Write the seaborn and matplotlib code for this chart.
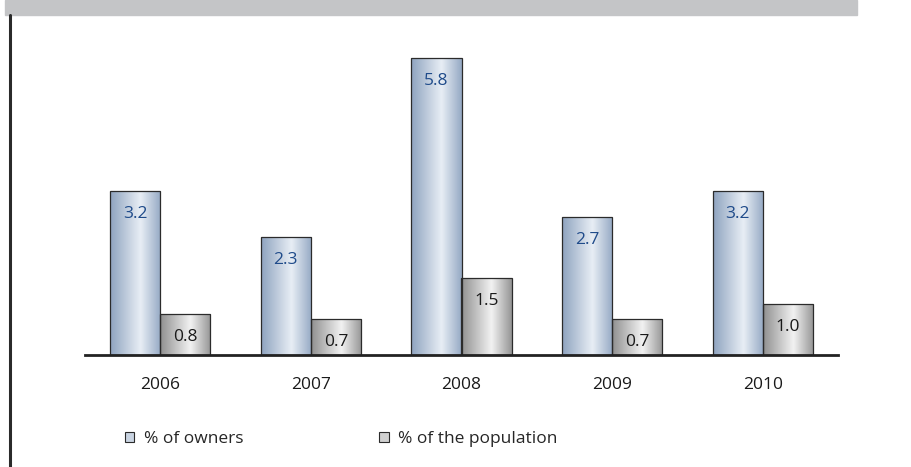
import numpy as np
import pandas as pd
import seaborn as sns
import matplotlib.pyplot as plt
from matplotlib.colors import LinearSegmentedColormap
from matplotlib.patches import Rectangle, Patch
from matplotlib.lines import Line2D

years = ['2006', '2007', '2008', '2009', '2010']
owners = [3.2, 2.3, 5.8, 2.7, 3.2]
population = [0.8, 0.7, 1.5, 0.7, 1.0]
series_names = ['% of owners', '% of the population']

df = pd.DataFrame({
    'year': years * 2,
    'value': owners + population,
    'series': [series_names[0]] * len(years) + [series_names[1]] * len(years),
})

sns.set_theme(style='white')
plt.rcParams['font.family'] = ['Open Sans', 'DejaVu Sans']

W, H = 911, 467
fig = plt.figure(figsize=(W / 100, H / 100), dpi=100)
ax = fig.add_axes([85 / W, 1 - 355 / H, (838 - 85) / W, (355 - 15) / H])

blue_mid = '#b4c3d6'
gray_mid = '#c4c4c4'
sns.barplot(data=df, x='year', y='value', hue='series', ax=ax,
            palette=[blue_mid, gray_mid], width=0.665, gap=0,
            edgecolor='#2b2b2b', linewidth=0.9, legend=False)

# horizontal gradients clipped to each bar
blue_cmap = LinearSegmentedColormap.from_list(
    'b', [(0, '#8ea3bf'), (0.6, '#e8eef5'), (1, '#95a9c4')])
gray_cmap = LinearSegmentedColormap.from_list(
    'g', [(0, '#8f8f8f'), (0.6, '#f2f2f2'), (1, '#959595')])
grad = np.linspace(0, 1, 256).reshape(1, -1)
n = len(years)
for i, p in enumerate(ax.patches[:2 * n]):
    cmap = blue_cmap if i < n else gray_cmap
    x0, w, h = p.get_x(), p.get_width(), p.get_height()
    im = ax.imshow(grad, cmap=cmap, aspect='auto', extent=(x0, x0 + w, 0, h),
                   zorder=1.5, interpolation='bicubic')
    im.set_clip_path(p)
    p.set_facecolor('none')
    p.set_zorder(2)
    val = owners[i] if i < n else population[i - n]
    ax.annotate(f'{val:.1f}', (x0 + w / 2, h), xytext=(0, -23),
                textcoords='offset pixels', ha='center', va='center',
                fontsize=12.5, color='#1f4b8a' if i < n else '#1a1a1a', zorder=3)

ax.set_xlim(-0.5, 4.5)
ax.set_ylim(0, 340 / 51.25)
ax.set_xlabel('')
ax.set_ylabel('')
ax.set_yticks([])
ax.tick_params(axis='x', length=0, labelsize=12.5, pad=16, colors='#1a1a1a')
for s in ['top', 'right', 'left']:
    ax.spines[s].set_visible(False)
ax.spines['bottom'].set_color('#222222')
ax.spines['bottom'].set_linewidth(2)

# header band and left rule
fig.patches.append(Rectangle((5 / W, 1 - 15 / H), (857 - 5) / W, 15 / H,
                             transform=fig.transFigure, color='#c4c5c7', zorder=0))
fig.lines.append(Line2D([10 / W, 10 / W], [0, 1 - 15 / H], transform=fig.transFigure,
                        color='#2a2a2a', linewidth=2.2))

handles = [Patch(facecolor='#c9d4e2', edgecolor='#2b2b2b', linewidth=0.8),
           Patch(facecolor='#d0d0d0', edgecolor='#2b2b2b', linewidth=0.8)]
fig.legend(handles, series_names, loc='center left', ncol=2, frameon=False,
           bbox_to_anchor=(118 / W, 1 - 439 / H), fontsize=12.5,
           handlelength=0.55, handleheight=0.55, handletextpad=0.55,
           columnspacing=7.8, borderaxespad=0)

fig.savefig('out.png', dpi=100)
